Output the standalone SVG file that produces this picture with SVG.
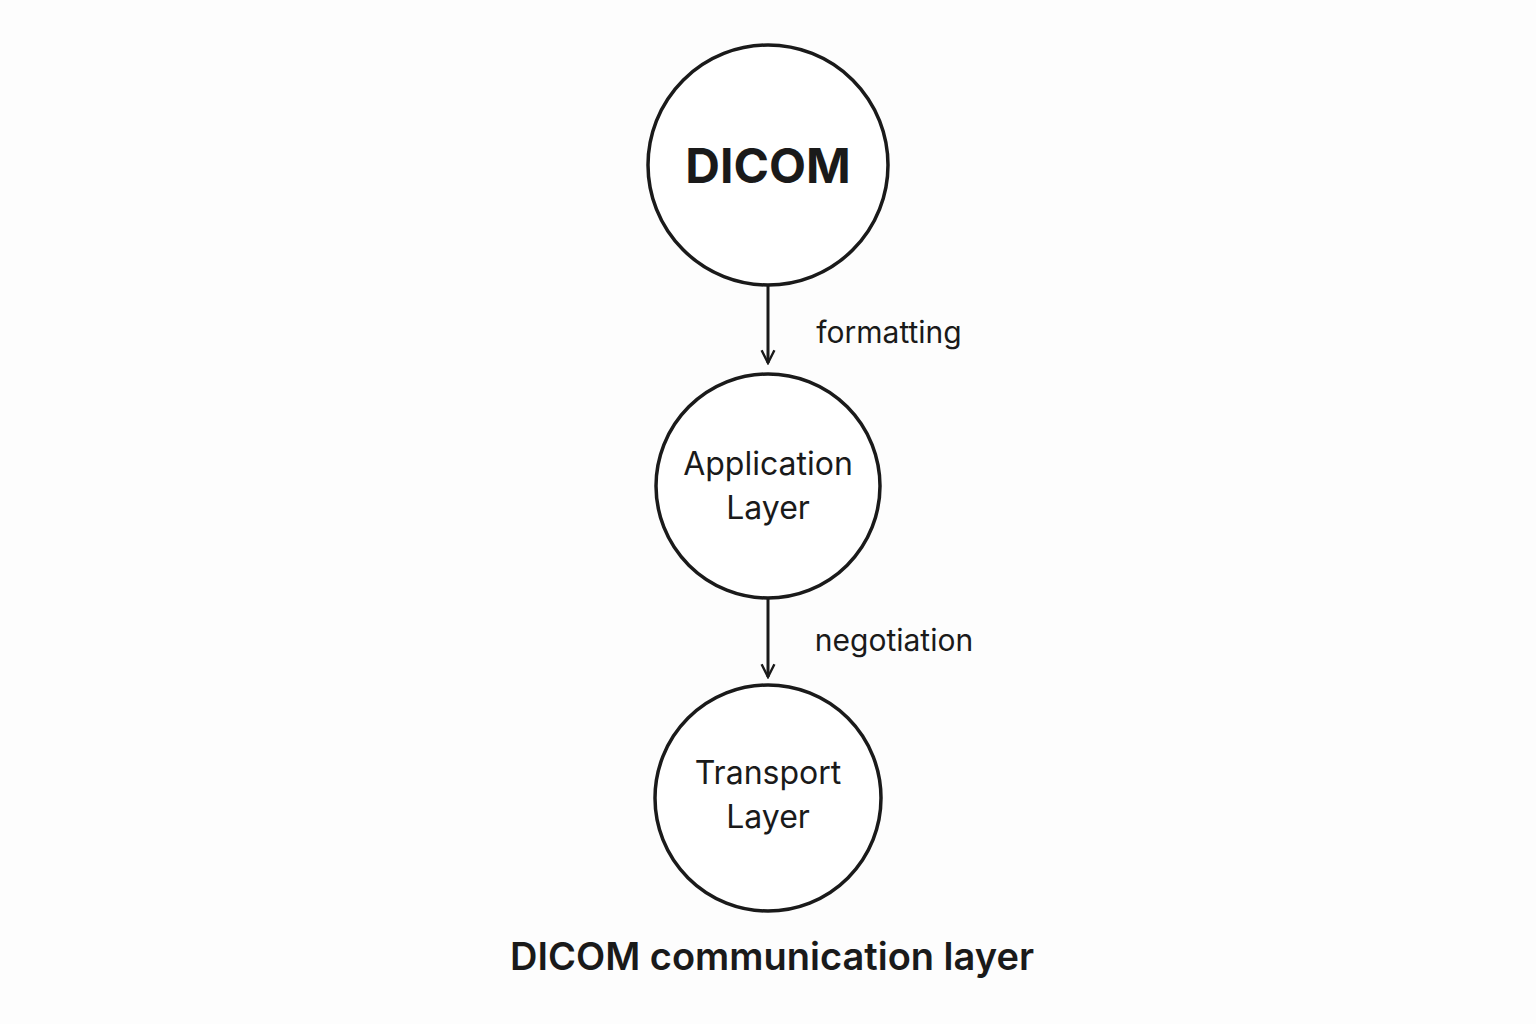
<svg xmlns="http://www.w3.org/2000/svg" width="1536" height="1024" viewBox="0 0 1536 1024">
<style>
.n{fill:#fff;stroke:#1a1a1a;stroke-width:3.5}
.t{font-family:Inter,"Liberation Sans",sans-serif;fill:#1a1a1a;text-anchor:middle}
.c{stroke:#1a1a1a;stroke-width:3;fill:none}
</style>
<defs><marker id="a" viewBox="0 0 20 20" refX="18" refY="10" markerWidth="16" markerHeight="16" markerUnits="userSpaceOnUse" orient="auto"><path d="M2 2L18 10L2 18" fill="none" stroke="#1a1a1a" stroke-width="3"/></marker></defs>
<rect width="1536" height="1024" fill="#fdfdfd"/>
<g id="connectors">
<line class="c" x1="768" y1="285" x2="768" y2="363" marker-end="url(#a)"/>
<line class="c" x1="768" y1="598" x2="768" y2="677" marker-end="url(#a)"/>
<text class="t" x="889" y="343" font-size="30">formatting</text>
<text class="t" x="894" y="651" font-size="30">negotiation</text>
</g>
<g id="dicom"><circle class="n" cx="768" cy="165" r="120"/><text class="t" x="768" y="183" font-size="48" font-weight="bold">DICOM</text></g>
<g id="app"><circle class="n" cx="768" cy="486" r="112"/><text class="t" x="768" y="475" font-size="32">Application</text><text class="t" x="768" y="519" font-size="32">Layer</text></g>
<g id="transport"><circle class="n" cx="768" cy="798" r="113"/><text class="t" x="768" y="784" font-size="32">Transport</text><text class="t" x="768" y="828" font-size="32">Layer</text></g>
<text class="t" x="772" y="970" font-size="38" font-weight="600">DICOM communication layer</text>
</svg>
